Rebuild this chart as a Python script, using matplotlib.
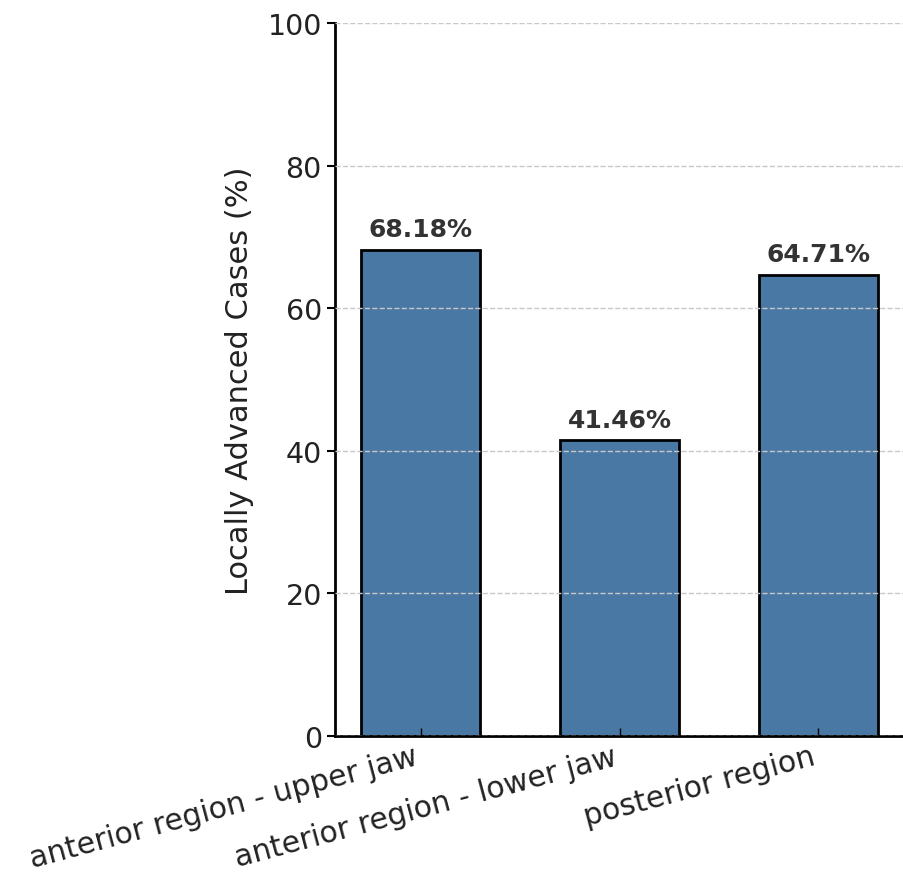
import matplotlib
matplotlib.use('Agg')
import matplotlib.pyplot as plt

# data
regions = ['anterior region - upper jaw', 'anterior region - lower jaw', 'posterior region']
values = [68.18, 41.46, 64.71]
yticks = [0, 20, 40, 60, 80, 100]

fig = plt.figure(figsize=(9.04, 8.78), dpi=100)
ax = fig.add_axes([0.3706, 0.1606, 0.6294, 0.8121])

x = range(len(regions))
bars = ax.bar(x, values, width=0.6, color='#4a78a4', edgecolor='black', linewidth=2, zorder=1)

# value labels above the bars
for b, v in zip(bars, values):
    ax.text(b.get_x() + b.get_width() / 2, v + 1.2, '%.2f%%' % v,
            ha='center', va='bottom', fontsize=18, fontweight='bold', color='#333333')

ax.set_ylim(0, 100)
ax.set_yticks(yticks)
ax.set_xticks(list(x))
ax.set_xticklabels(regions, rotation=15, ha='right', fontsize=21.5, color='#222222')
ax.tick_params(axis='y', labelsize=20.5, width=1.5, length=6, labelcolor='#222222')
ax.tick_params(axis='x', direction='in', width=1, length=6, pad=4)
ax.set_ylabel('Locally Advanced Cases (%)', fontsize=22, labelpad=10, color='#222222')

ax.grid(axis='y', linestyle='--', color='#c8c8c8', linewidth=1, zorder=3)
ax.set_axisbelow(False)
ax.spines['top'].set_visible(False)
ax.spines['right'].set_visible(False)
ax.spines['left'].set_linewidth(2)
ax.spines['bottom'].set_linewidth(2)

plt.savefig('out.png', dpi=100)
plt.close()
